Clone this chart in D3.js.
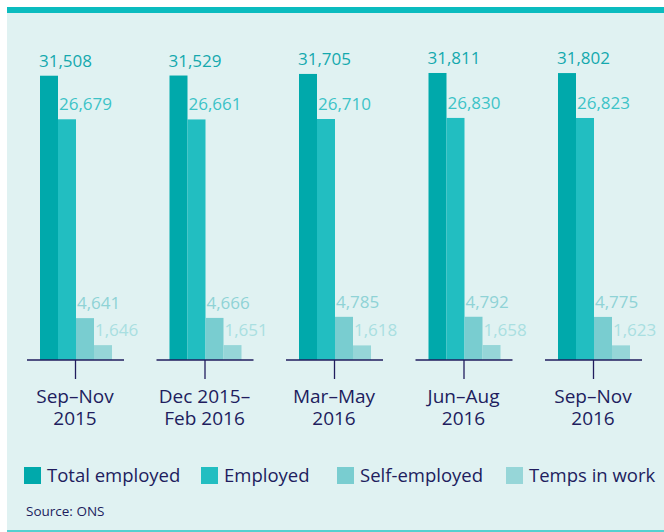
<!DOCTYPE html>
<html>
<head>
<meta charset="utf-8">
<script src="https://cdn.jsdelivr.net/npm/d3@7"></script>
<style>
    body { margin: 0; background: #ffffff; }
    svg { display: block; font-family: "Open Sans", "Noto Sans", sans-serif; }
</style>
</head>
<body>
<div id="chart"></div>
<script>
// data (thousands)
const categories = [["Sep\u2013Nov", "2015"], ["Dec 2015\u2013", "Feb 2016"], ["Mar\u2013May", "2016"], ["Jun\u2013Aug", "2016"], ["Sep\u2013Nov", "2016"]];
const seriesNames = ["Total employed", "Employed", "Self-employed", "Temps in work"];
const totalEmployed = [31508, 31529, 31705, 31811, 31802];
const employed = [26679, 26661, 26710, 26830, 26823];
const selfEmployed = [4641, 4666, 4785, 4792, 4775];
const tempsInWork = [1646, 1651, 1618, 1658, 1623];
const source = "Source: ONS";

const barColors = ["#00a9ab", "#22bec1", "#79cdd0", "#96d6d8"];
const labelColors = ["#14a9ae", "#3cc3c7", "#8fd3d6", "#a9dfe1"];
const navy = "#211d5e";

const width = 664, height = 532;
const baseline = 360;

const svg = d3.select("#chart").append("svg")
    .attr("width", width)
    .attr("height", height);

// panel
svg.append("rect").attr("x", 7).attr("y", 7).attr("width", width - 7).attr("height", height - 7)
    .attr("fill", "#e0f2f2");
svg.append("rect").attr("x", 7).attr("y", 7).attr("width", width - 7).attr("height", 6)
    .attr("fill", "#0bbcbf");
svg.append("rect").attr("x", 7).attr("y", 530).attr("width", width - 7).attr("height", 2)
    .attr("fill", "#55d0d0");

const keys = categories.map((c) => c.join(" "));
const series = [totalEmployed, employed, selfEmployed, tempsInWork];

const x0 = d3.scaleBand().domain(keys).range([11.25, 658.75]).paddingInner(0.444).paddingOuter(0.222);
const x1 = d3.scaleBand().domain(seriesNames).range([0, x0.bandwidth()]);
const y = d3.scaleLinear().domain([0, 39900]).range([baseline, 0]);

const groups = svg.selectAll("g.group")
    .data(keys)
    .enter().append("g")
    .attr("class", "group")
    .attr("transform", (d) => "translate(" + x0(d) + ",0)");

groups.each(function (key, i) {
    let g = d3.select(this);
    seriesNames.forEach((name, s) => {
        let v = series[s][i];
        g.append("rect")
            .attr("x", x1(name))
            .attr("y", y(v))
            .attr("width", x1.bandwidth())
            .attr("height", baseline - y(v))
            .attr("fill", barColors[s]);
        g.append("text")
            .attr("x", x1(name) + (s == 0 ? -1 : 1))
            .attr("y", y(v) - 9)
            .attr("fill", labelColors[s])
            .style("font-size", "17px")
            .text(d3.format(",")(v));
    });

    // axis piece + tick
    g.append("line")
        .attr("x1", -13).attr("x2", x0.bandwidth() + 12)
        .attr("y1", baseline).attr("y2", baseline)
        .attr("stroke", navy).attr("stroke-width", 1.3);
    g.append("line")
        .attr("x1", x0.bandwidth() / 2 - 0.5).attr("x2", x0.bandwidth() / 2 - 0.5)
        .attr("y1", baseline).attr("y2", baseline + 19)
        .attr("stroke", navy).attr("stroke-width", 1.3);

    let lab = g.append("text")
        .attr("text-anchor", "middle")
        .attr("fill", navy)
        .style("font-size", "19px");
    categories[i].forEach((line, k) => {
        lab.append("tspan")
            .attr("x", x0.bandwidth() / 2 - 1)
            .attr("y", 403 + k * 22)
            .text(line);
    });
});

// legend
const legendX = [24, 201, 337, 506];
const legend = svg.selectAll("g.legend")
    .data(seriesNames)
    .enter().append("g")
    .attr("class", "legend")
    .attr("transform", (d, i) => "translate(" + legendX[i] + ",467)");

legend.append("rect")
    .attr("width", 17).attr("height", 17)
    .attr("fill", (d, i) => barColors[i]);

legend.append("text")
    .attr("x", 23).attr("y", 14.5)
    .attr("fill", navy)
    .style("font-size", "18.5px")
    .text((d) => d);

svg.append("text")
    .attr("x", 26).attr("y", 516)
    .attr("fill", navy)
    .style("font-size", "13.5px")
    .text(source);
</script>
</body>
</html>
